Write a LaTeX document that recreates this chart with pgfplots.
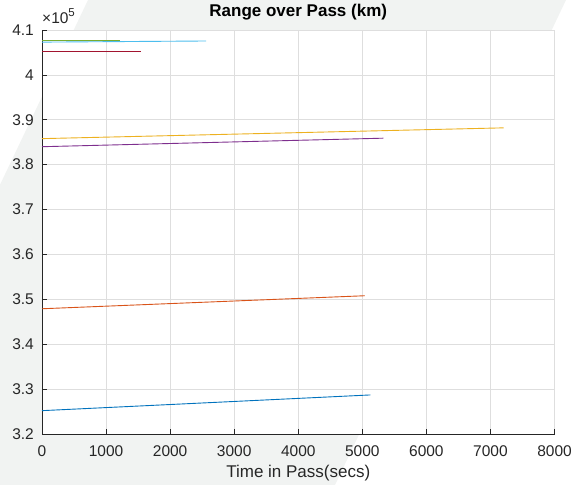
\documentclass[border=0pt]{standalone}
\usepackage{fontspec}
\setmainfont{Liberation Sans}
\usepackage{pgfplots}
\pgfplotsset{compat=1.18}

% MATLAB default line colours
\definecolor{mblue}{RGB}{0,114,189}
\definecolor{morange}{RGB}{217,83,25}
\definecolor{myellow}{RGB}{237,177,32}
\definecolor{mpurple}{RGB}{126,47,142}
\definecolor{mgreen}{RGB}{119,172,48}
\definecolor{mcyan}{RGB}{77,190,238}
\definecolor{mred}{RGB}{162,20,47}
\definecolor{axgray}{RGB}{38,38,38}
\definecolor{gridgray}{RGB}{222,222,222}
\definecolor{figbg}{RGB}{241,243,242}

\begin{document}
\begin{tikzpicture}[x=1bp,y=1bp]
\useasboundingbox (0,0) rectangle (574,485);
% slanted figure backdrop
\begin{scope}
  \clip (0,0) rectangle (574,485);
  \fill[figbg] (88,485) -- (566,485) -- (335,0) -- (-143,0) -- cycle;
\end{scope}
\begin{axis}[
  at={(42bp,51bp)}, anchor=south west,
  width=512.5bp, height=404bp, scale only axis,
  axis background/.style={fill=white},
  clip=false,
  xmin=0, xmax=8000, ymin=320000, ymax=410000,
  xtick={0,1000,...,8000},
  ytick={320000,330000,...,410000},
  scaled x ticks=false,
  scaled y ticks=base 10:-5,
  ytick scale label code/.code={},
  /pgf/number format/assume math mode=true,
  /pgf/number format/1000 sep={},
  axis x line*=bottom, axis y line*=left,
  axis line style={axgray, line width=0.7bp},
  tick align=inside, major tick length=5bp,
  tick style={axgray, line width=0.7bp},
  grid=major,
  major grid style={gridgray, line width=0.6bp},
  ticklabel style={font=\fontsize{15.5bp}{18bp}\selectfont, text=axgray},
  xticklabel style={anchor=base, yshift=-23bp, inner sep=0pt},
  yticklabel style={anchor=east, xshift=-8bp, inner sep=0pt},
  xlabel={Time in Pass(secs)},
  xlabel style={at={(axis description cs:0.5,0)}, anchor=base, yshift=-44bp,
    inner sep=0pt, font=\fontsize{17bp}{20bp}\selectfont, text=axgray},
  title={\textbf{Range over Pass (km)}},
  title style={at={(axis description cs:0.5,1)}, anchor=base, yshift=8bp,
    inner sep=0pt, font=\fontsize{17bp}{20bp}\selectfont},
  every axis plot/.append style={line width=0.9bp},
]
\addplot[mblue]   coordinates {(0,325200) (5124,328700)};
\addplot[morange] coordinates {(0,347900) (5038,350800)};
\addplot[myellow] coordinates {(0,385800) (7205,388200)};
\addplot[mpurple] coordinates {(0,384000) (5330,385900)};
\addplot[mgreen]  coordinates {(0,407650) (1224,407650)};
\addplot[mcyan]   coordinates {(0,407300) (2562,407550)};
\addplot[mred]    coordinates {(0,405300) (1538,405300)};
% exponent of the y tick labels
\node[anchor=base west, inner sep=0pt, yshift=6bp, text=axgray,
      font=\fontsize{15.5bp}{18bp}\selectfont]
  at (rel axis cs:0,1) {×10\raisebox{0.5em}{\fontsize{11.5bp}{13bp}\selectfont 5}};
\end{axis}
\end{tikzpicture}
\end{document}
